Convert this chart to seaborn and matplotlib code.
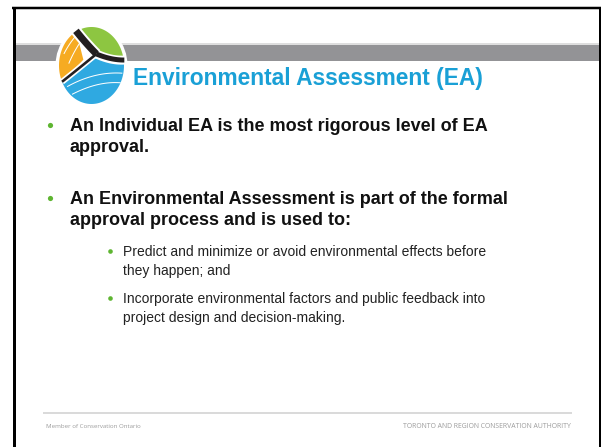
import numpy as np
import matplotlib
matplotlib.use("Agg")
import matplotlib.pyplot as plt
import seaborn as sns
from matplotlib.patches import Polygon, Ellipse, Rectangle

# ---- slide content ----
title = "Environmental Assessment (EA)"
main_bullets = [
    ["An Individual EA is the most rigorous level of EA", "approval."],
    ["An Environmental Assessment is part of the formal", "approval process and is used to:"],
]
sub_bullets = [
    ["Predict and minimize or avoid environmental effects before", "they happen; and"],
    ["Incorporate environmental factors and public feedback into", "project design and decision-making."],
]
footer_left = "Member of Conservation Ontario"
footer_right = "TORONTO AND REGION CONSERVATION AUTHORITY"

sns.set_theme(style="white")
plt.rcParams['font.family'] = ['Liberation Sans', 'DejaVu Sans']

W, H = 602, 447
fig = plt.figure(figsize=(W / 100, H / 100), dpi=100)
fig.patch.set_facecolor('white')
ax = fig.add_axes([0, 0, 1, 1])
ax.set_xlim(0, W)
ax.set_ylim(H, 0)
ax.axis('off')
PX = 0.72  # points per pixel
renderer = fig.canvas.get_renderer()


def fit_size(text, width_px, weight='normal', family='Liberation Sans', base=10.0):
    t = ax.text(0, 0, text, fontsize=base, fontweight=weight, family=family)
    w = t.get_window_extent(renderer=renderer).width
    t.remove()
    return base * width_px / w


# ---- frame ----
ax.plot([13.5, 13.5], [7, H + 5], color='black', lw=3 * PX, solid_capstyle='butt', zorder=10)
ax.plot([12, 601], [8, 8], color='black', lw=2.5 * PX, solid_capstyle='butt', zorder=10)
ax.plot([600, 600], [7, H + 5], color='black', lw=2 * PX, solid_capstyle='butt', zorder=10)

# ---- grey header bar ----
ax.add_patch(Rectangle((14.5, 43), 585, 2.2, color='#dedede', lw=0))
ax.add_patch(Rectangle((14.5, 45), 585, 16, color='#939396', lw=0))

# ---- logo ----
cx, cy, sx, sy = 91.5, 65.5, 32.5, 38.5


def to(u, v):
    return (cx + sx * np.asarray(u), cy - sy * np.asarray(v))


ax.add_patch(Ellipse((cx, cy), 2 * 36, 2 * 41, color='white', lw=0, zorder=2))
J = np.array([0.15, 0.30])


def sector(a0, a1, color, r=1.0, inner=J):
    th = np.radians(np.linspace(a0, a1, 60))
    us = np.concatenate([[inner[0]], r * np.cos(th)])
    vs = np.concatenate([[inner[1]], r * np.sin(th)])
    x, y = to(us, vs)
    ax.add_patch(Polygon(np.column_stack([x, y]), closed=True, color=color, lw=0, zorder=3))


sector(8, 118, '#8dc641')
sector(118, 205, '#f6ab22', inner=np.array([-0.25, 0.15]))
sector(205, 368, '#2fa9e1')


def bez(p0, p1, p2, n=40):
    t = np.linspace(0, 1, n)[:, None]
    p0, p1, p2 = map(np.asarray, (p0, p1, p2))
    return (1 - t) ** 2 * p0 + 2 * (1 - t) * t * p1 + t ** 2 * p2


def arm(p0, p1, p2, w, color, z):
    pts = bez(p0, p1, p2)
    x, y = to(pts[:, 0], pts[:, 1])
    ax.plot(x, y, color=color, lw=w * PX, solid_capstyle='butt', zorder=z)


tl = (np.cos(np.radians(118)) * 1.02, np.sin(np.radians(118)) * 1.02)
rt = (np.cos(np.radians(8)) * 1.02, np.sin(np.radians(8)) * 1.02)
ll = (np.cos(np.radians(205)) * 1.0, np.sin(np.radians(205)) * 1.0)
# white separations
arm(tl, (-0.15, 0.55), J, 11, 'white', 4)
arm(J, (0.6, 0.12), rt, 9, 'white', 4)
arm(J, (-0.35, -0.05), ll, 6, 'white', 4)
# black Y
arm(tl, (-0.15, 0.55), J, 7, '#231f20', 5)
arm(J, (0.6, 0.14), rt, 5, '#231f20', 5)
arm(J, (-0.35, -0.05), ll, 2.6, '#231f20', 5)
# white streaks
for p0, p1, p2 in [((-0.75, -0.55), (0.1, -0.15), (0.95, -0.2)),
                   ((-0.6, -0.75), (0.2, -0.4), (0.9, -0.45)),
                   ((-0.85, 0.3), (-0.7, 0.55), (-0.5, 0.75)),
                   ((-0.7, 0.05), (-0.55, 0.35), (-0.35, 0.6))]:
    arm(p0, p1, p2, 1.0, 'white', 6)

# ---- title ----
fs_title = fit_size(title, 352, weight='bold')
ax.text(133, 85, title, fontsize=fs_title, fontweight='bold', color='#1aa0d6',
        va='baseline', ha='left', zorder=7)

# ---- main bullets ----
fs_main = fit_size(main_bullets[0][0], 418, weight='bold')
main_baselines = [[131, 152], [204, 225]]
for lines, bls in zip(main_bullets, main_baselines):
    ax.plot([50], [bls[0] - 6], marker='o', ms=5.2 * PX, color='#5eb531', mec='none', zorder=7)
    for line, b in zip(lines, bls):
        ax.text(70, b, line, fontsize=fs_main, fontweight='bold', color='#111111',
                va='baseline', ha='left', zorder=7)

# ---- sub bullets ----
fs_sub = fit_size(sub_bullets[0][0], 362)
sub_baselines = [[256, 275], [303, 322]]
for lines, bls in zip(sub_bullets, sub_baselines):
    ax.plot([110], [bls[0] - 5.5], marker='o', ms=4.6 * PX, color='#5eb531', mec='none', zorder=7)
    for line, b in zip(lines, bls):
        ax.text(123, b, line, fontsize=fs_sub, color='#222222',
                va='baseline', ha='left', zorder=7)

# ---- footer ----
ax.plot([43, 572], [413, 413], color='#cfcfcf', lw=1.5 * PX, solid_capstyle='butt')
fs_fl = fit_size(footer_left, 94, family='Open Sans')
ax.text(46, 427, footer_left, fontsize=fs_fl, family='Open Sans', color='#9c9c9c',
        va='center', ha='left')
fs_fr = fit_size(footer_right, 168, family='Open Sans')
ax.text(571, 427, footer_right, fontsize=fs_fr, family='Open Sans', color='#9c9c9c',
        va='center', ha='right')

fig.savefig('out.png', dpi=100, facecolor='white')
